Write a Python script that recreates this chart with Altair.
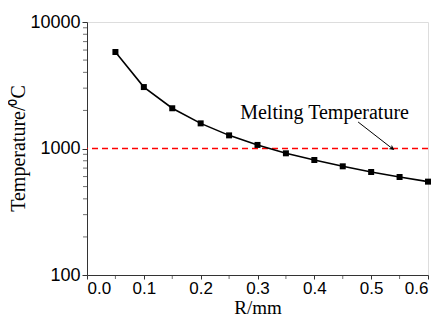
import altair as alt
import pandas as pd

r_mm = [0.05, 0.10, 0.15, 0.20, 0.25, 0.30, 0.35, 0.40, 0.45, 0.50, 0.55, 0.60]
temperature = [5790, 3060, 2080, 1580, 1270, 1067, 916, 811, 723, 652, 595, 547]
melting_temp = 1000
x_major = [0.0, 0.1, 0.2, 0.3, 0.4, 0.5, 0.6]
x_minor = [0.05, 0.15, 0.25, 0.35, 0.45, 0.55]
y_major = [100, 1000, 10000]
y_minor = [200, 300, 400, 500, 600, 700, 800, 900, 2000, 3000, 4000, 5000, 6000, 7000, 8000, 9000]
label_text = ["Melting Temperature"]
label_pos = [0.418, 1910]
arrow_start = [0.477, 1620]
arrow_end = [0.537, 1000]

df = pd.DataFrame({"R": r_mm, "T": temperature})

xscale = alt.Scale(domain=[0, 0.6], nice=False, zero=False)
yscale = alt.Scale(type="log", domain=[100, 10000], nice=False)

LABEL_FONT = "Liberation Sans"
TITLE_FONT = "Liberation Serif"

x_axis = alt.Axis(values=x_major, format=".1f", title="R/mm", labelFont=LABEL_FONT,
                  labelFontSize=17, labelColor="black", titleFont=TITLE_FONT, titleFontSize=19,
                  titleFontWeight="normal", titleColor="black", tickSize=4, tickColor="#333",
                  domainColor="#333", grid=False, labelPadding=1,
                  titleY=38, titleBaseline="alphabetic")
y_axis = alt.Axis(values=y_major, format="d", title="Temperature/\u2070C", labelFont=LABEL_FONT,
                  labelFontSize=18, labelColor="black", titleFont=TITLE_FONT, titleFontSize=20,
                  titleFontWeight="normal", titleColor="black", tickSize=5, tickColor="#333",
                  domainColor="#333", grid=False, labelPadding=2,
                  titleX=-69, titleY=126, titleAngle=270, titleBaseline="middle", titleAlign="center")

line = alt.Chart(df).mark_line(color="black", strokeWidth=1.6).encode(
    x=alt.X("R:Q", scale=xscale, axis=x_axis),
    y=alt.Y("T:Q", scale=yscale, axis=y_axis),
)
points = alt.Chart(df).mark_point(shape="square", filled=True, color="black", size=36, opacity=1).encode(
    x=alt.X("R:Q", scale=xscale), y=alt.Y("T:Q", scale=yscale)
)

xminor_df = pd.DataFrame({"R": x_minor})
xminor = alt.Chart(xminor_df).mark_tick(color="#333", thickness=1, size=4, yOffset=2).encode(
    x=alt.X("R:Q", scale=xscale), y=alt.value(253)
)
yminor_df = pd.DataFrame({"T": y_minor})
yminor = alt.Chart(yminor_df).mark_tick(color="#333", thickness=1, size=4, xOffset=-2, orient="horizontal").encode(
    y=alt.Y("T:Q", scale=yscale), x=alt.value(0)
)

melt = alt.Chart(pd.DataFrame({"T": [melting_temp]})).mark_rule(
    color="#ff0000", strokeDash=[6, 4], strokeWidth=1.5
).encode(y=alt.Y("T:Q", scale=yscale))

label = alt.Chart(pd.DataFrame({"R": [label_pos[0]], "T": [label_pos[1]], "t": label_text})).mark_text(
    font=TITLE_FONT, fontSize=20, color="black", align="center", baseline="middle"
).encode(x=alt.X("R:Q", scale=xscale), y=alt.Y("T:Q", scale=yscale), text="t:N")

arrow_df = pd.DataFrame({"R": [arrow_start[0]], "T": [arrow_start[1]], "R2": [arrow_end[0]], "T2": [arrow_end[1]]})
arrow = alt.Chart(arrow_df).mark_rule(color="black", strokeWidth=1).encode(
    x=alt.X("R:Q", scale=xscale), y=alt.Y("T:Q", scale=yscale), x2="R2:Q", y2="T2:Q"
)
head = alt.Chart(pd.DataFrame({"R": [arrow_end[0]], "T": [arrow_end[1]]})).mark_point(
    shape="M-1,1 L0,-1 L1,1 L0,0.4 Z", filled=True, color="black", size=28, angle=127, opacity=1
).encode(x=alt.X("R:Q", scale=xscale), y=alt.Y("T:Q", scale=yscale))

chart = alt.layer(melt, line, points, xminor, yminor, arrow, head, label).properties(
    width=341, height=253,
    autosize=alt.AutoSizeParams(type="none"),
    padding={"left": 79, "top": 14, "right": 6, "bottom": 41},
).configure_view(stroke="#333", strokeWidth=1).configure(background="white")

chart.save("out.html", embed_options={"renderer": "svg", "actions": False})
